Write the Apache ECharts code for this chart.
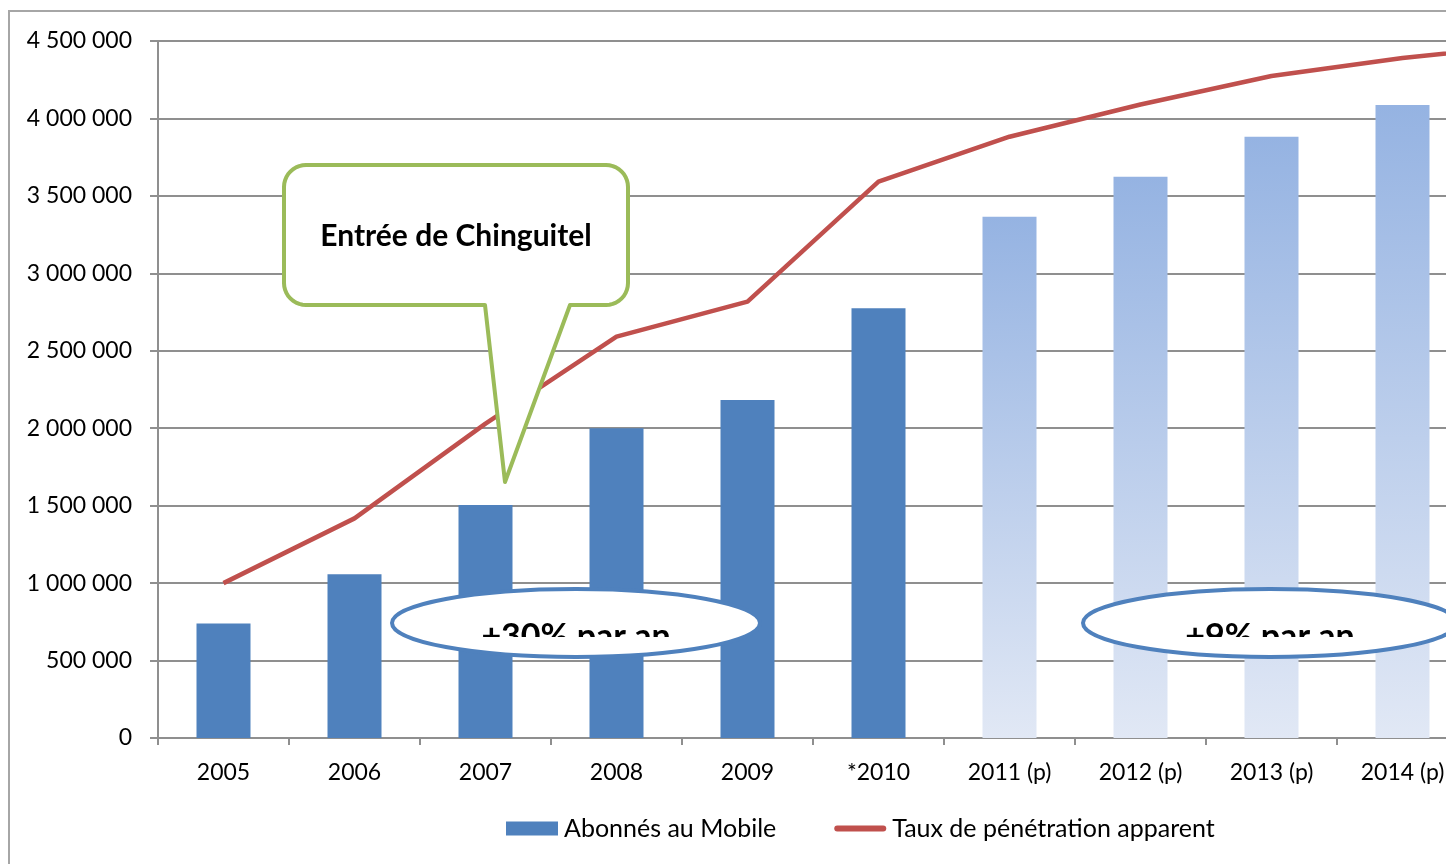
<!DOCTYPE html>
<html>
<head>
<meta charset="utf-8">
<script src="https://cdn.jsdelivr.net/npm/echarts@6/dist/echarts.min.js"></script>
<style>
html,body{margin:0;padding:0;background:#fff;}
#chart{width:1446px;height:864px;}
</style>
</head>
<body>
<div id="chart"></div>
<script>
// ---- data ----
// the last category lies beyond the cropped right edge; only its line segment is visible
const categories = ['2005', '2006', '2007', '2008', '2009', '*2010', '2011 (p)', '2012 (p)', '2013 (p)', '2014 (p)', '2015 (p)'];
const subscribers = [740000, 1057000, 1504000, 2000000, 2182000, 2774000, 3366000, 3624000, 3882000, 4087000, null];
const penetration = [1000000, 1418000, 2030000, 2591000, 2817000, 3592000, 3882000, 4090000, 4274000, 4390000, 4480000];
const projected = [false, false, false, false, false, false, true, true, true, true, true];
const seriesNames = ['Abonnés au Mobile', 'Taux de pénétration apparent'];
const yTicks = { min: 0, max: 4500000, interval: 500000 };
const callout = 'Entrée de Chinguitel';
const growthLabels = ['+30% par an', '+9% par an'];

const FONT = 'Lato, "Open Sans", sans-serif';
const BLUE = '#4f81bd';
const RED = '#c0504d';
const GREEN = '#9bbb59';
const GRIDC = '#8f8f8f';

function fmt(v) {
  return String(v).replace(/\B(?=(\d{3})+(?!\d))/g, ' ');
}

const barData = subscribers.map((v, i) => {
  if (!projected[i]) return { value: v, itemStyle: { color: BLUE } };
  return {
    value: v,
    itemStyle: {
      color: {
        type: 'linear', x: 0, y: 0, x2: 0, y2: 1,
        colorStops: [{ offset: 0, color: '#95b3e2' }, { offset: 1, color: '#e1e8f5' }]
      }
    }
  };
});

// callout outline (rounded rectangle with pointer)
function calloutPoints(x0, y0, x1, y1, r, pL, tip, pR) {
  const pts = [];
  function arc(cx, cy, a0, a1) {
    const n = 10;
    for (let k = 0; k <= n; k++) {
      const a = a0 + (a1 - a0) * k / n;
      pts.push([cx + r * Math.cos(a), cy + r * Math.sin(a)]);
    }
  }
  pts.push([pL, y1]);
  pts.push(tip);
  pts.push([pR, y1]);
  arc(x1 - r, y1 - r, Math.PI / 2, 0);
  arc(x1 - r, y0 + r, 0, -Math.PI / 2);
  arc(x0 + r, y0 + r, -Math.PI / 2, -Math.PI);
  arc(x0 + r, y1 - r, Math.PI, Math.PI / 2);
  return pts;
}

// white mask covering the lower part of the ellipse interior (text is cut there)
function lowerMask(cx, cy, rx, ry, cut) {
  const a = rx - 0.5, b = ry - 0.5;
  const t0 = Math.asin(Math.min(1, cut / b));
  const pts = [];
  const n = 60;
  for (let k = 0; k <= n; k++) {
    const t = t0 + (Math.PI - 2 * t0) * k / n;
    pts.push([cx + a * Math.cos(t), cy + b * Math.sin(t)]);
  }
  return pts;
}

function ellipseGroup(cx, cy, rx, ry, text) {
  return [
    { type: 'ellipse', shape: { cx: cx, cy: cy, rx: rx, ry: ry }, style: { fill: '#fff', stroke: null }, z: 100 },
    { type: 'text', x: cx, y: cy + 14, style: { text: text, font: 'bold 34px ' + FONT, fill: '#000', align: 'center', verticalAlign: 'middle' }, z: 101 },
    { type: 'polygon', shape: { points: lowerMask(cx, cy, rx, ry, 14) }, style: { fill: '#fff', stroke: null }, z: 102 },
    { type: 'ellipse', shape: { cx: cx, cy: cy, rx: rx, ry: ry }, style: { fill: null, stroke: BLUE, lineWidth: 4 }, z: 103 }
  ];
}

const chart = echarts.init(document.getElementById('chart'), null, { renderer: 'canvas' });
chart.setOption({
  animation: false,
  backgroundColor: '#fff',
  textStyle: { fontFamily: FONT },
  grid: { left: 158, top: 41, width: 1441, height: 697, containLabel: false, outerBoundsMode: 'none' },
  legend: {
    left: 506, top: 816, padding: 0,
    itemWidth: 52, itemHeight: 14, itemGap: 58,
    textStyle: { fontSize: 25, color: '#000', fontFamily: FONT, padding: [0, 0, 0, 1] },
    data: [
      { name: seriesNames[0], icon: 'rect', itemStyle: { color: BLUE } },
      { name: seriesNames[1], icon: 'path://M3,0 L49,0 A3,3 0 0 1 49,6 L3,6 A3,3 0 0 1 3,0 Z', itemStyle: { color: RED } }
    ]
  },
  xAxis: {
    type: 'category',
    data: categories,
    boundaryGap: true,
    axisLine: { lineStyle: { color: GRIDC, width: 2 } },
    axisTick: { show: true, length: 7, lineStyle: { color: GRIDC, width: 2 } },
    axisLabel: { color: '#000', fontSize: 23, margin: 23, fontFamily: FONT }
  },
  yAxis: {
    type: 'value',
    min: yTicks.min, max: yTicks.max, interval: yTicks.interval,
    axisLine: { show: true, lineStyle: { color: GRIDC, width: 2 } },
    axisTick: { show: true, length: 8, lineStyle: { color: GRIDC, width: 2 } },
    axisLabel: { color: '#000', fontSize: 23, margin: 26, formatter: fmt, fontFamily: FONT },
    splitLine: { show: true, lineStyle: { color: GRIDC, width: 2 } }
  },
  series: [
    {
      name: seriesNames[0], type: 'bar', data: barData, barWidth: 54,
      itemStyle: { color: BLUE }, z: 2
    },
    {
      name: seriesNames[1], type: 'line', data: penetration, symbol: 'none', smooth: false,
      lineStyle: { color: RED, width: 4.5 }, itemStyle: { color: RED }, z: 3
    }
  ],
  graphic: {
    elements: [
      { type: 'rect', shape: { x: 9, y: 11, width: 1600, height: 1000 }, style: { fill: null, stroke: '#a6a6a6', lineWidth: 2 }, z: 0, silent: true },
      { type: 'polygon', shape: { points: calloutPoints(284, 165, 628, 305, 22, 485, [505, 482], 570) },
        style: { fill: '#fff', stroke: GREEN, lineWidth: 4, lineJoin: 'round' }, z: 100 },
      { type: 'text', x: 456, y: 236, style: { text: callout, font: 'bold 30px ' + FONT, fill: '#000', align: 'center', verticalAlign: 'middle' }, z: 101 }
    ].concat(ellipseGroup(576, 623, 184, 34, growthLabels[0]))
     .concat(ellipseGroup(1270, 623, 187, 34, growthLabels[1]))
  }
});
</script>
</body>
</html>
